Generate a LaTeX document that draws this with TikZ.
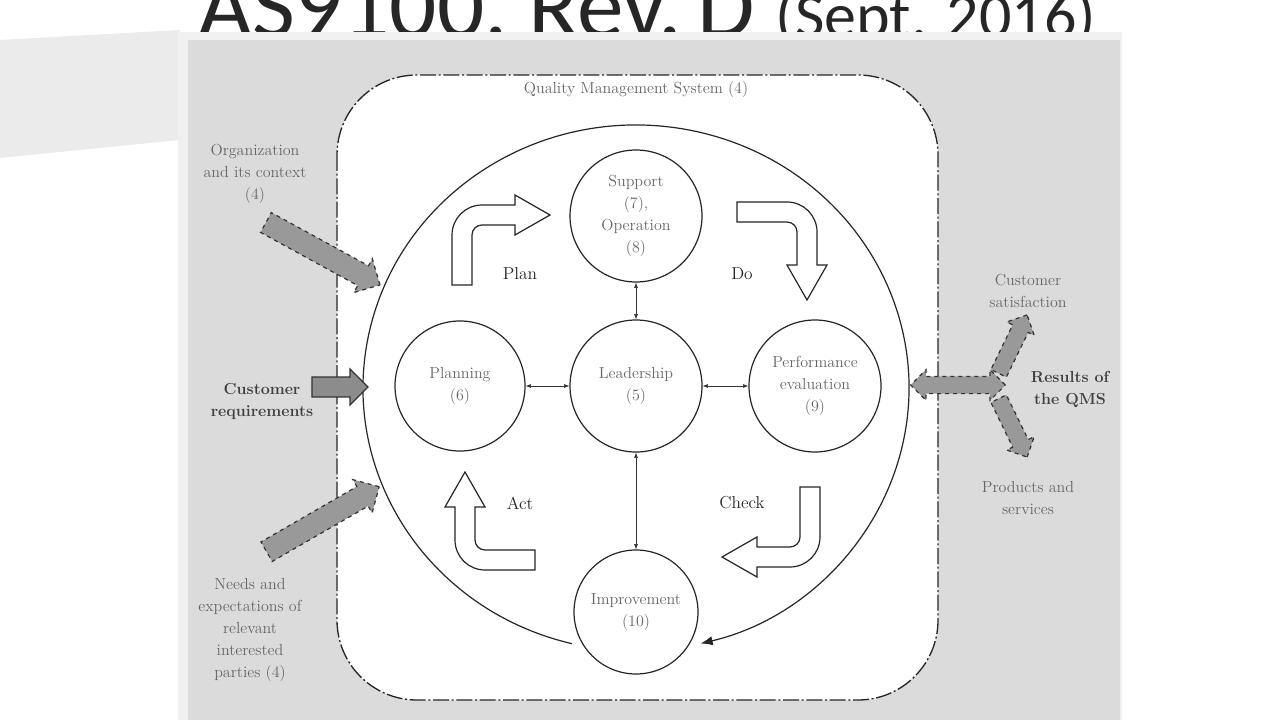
\documentclass[tikz,border=0pt]{standalone}
\usepackage{fontspec}
\newfontfamily\titlefont{Carlito}
\usetikzlibrary{shapes.arrows,arrows.meta}
\begin{document}
\begin{tikzpicture}[x=0.75pt,y=-0.75pt,
  lbl/.style={font=\fontsize{12}{16.5}\selectfont, text=black!60, align=center},
  blbl/.style={font=\fontsize{12}{16.5}\selectfont\bfseries, text=black!75, align=center},
  circ/.style={circle, draw=black!85, line width=0.9pt, fill=white, minimum size=#1*0.75pt, inner sep=0pt, font=\fontsize{12}{16.5}\selectfont, text=black!60, align=center},
  thin/.style={{Latex[length=4pt]}-{Latex[length=4pt]}, line width=0.5pt, draw=black!80},
  blk/.style={draw=black!85, line width=0.9pt, fill=white},
  fat/.style={single arrow, draw=black!80, dashed, line width=0.9pt, fill=black!40, inner xsep=0pt, inner ysep=8pt, single arrow head extend=6pt, minimum height=#1*0.75pt},
  cyc/.style={font=\fontsize{13}{16}\selectfont, text=black!85}]
\useasboundingbox (0,0) rectangle (1280,720);
\fill[white] (0,0) rectangle (1280,720);
\fill[black!8] (0,40) -- (180,30) -- (180,140) -- (0,158) -- cycle;
\node[anchor=base west, font=\titlefont\fontsize{70}{70}\selectfont, text=black!85, inner sep=0] (title) at (198,38) {AS9100, Rev.\,D \fontsize{48}{48}\selectfont(Sept. 2016)};
\fill[black!6] (178,32) rectangle (1122,720);
\fill[black!14] (188,40) rectangle (1120,720);
% QMS box
\draw[fill=white, draw=black!85, line width=1pt, dash pattern=on 12pt off 2pt on 1.5pt off 2pt, rounded corners=60pt] (337,75) rectangle (938,700);
\node[lbl] (qms) at (636,90) {Quality Management System (4)};
% big cycle
\draw[line width=0.9pt, draw=black!85, -{Latex[length=9pt,width=7pt]}] (636,388) ++(103.6:273 and 263) arc[start angle=103.6, end angle=436.3, x radius=273, y radius=263];
% block arrows
\foreach \r in {0,90,180,270}{
  \draw[blk, rotate around={\r:(636,386)}] (452,285) -- (452,235) arc[start angle=180, end angle=270, radius=30] -- (515,205) -- (515,195) -- (550,215) -- (515,235) -- (515,225) -- (482,225) arc[start angle=270, end angle=180, radius=10] -- (472,285) -- cycle;
}
\node[cyc] (plan) at (520,274) {Plan};
\node[cyc] (do) at (742,274) {Do};
\node[cyc] (check) at (742,503) {Check};
\node[cyc] (act) at (520,503) {Act};
% circles
\node[circ=132] (sup) at (636,216) {Support\\(7),\\Operation\\(8)};
\node[circ=130] (pla) at (460,386) {Planning\\(6)};
\node[circ=132] (lea) at (636,386) {Leadership\\(5)};
\node[circ=132] (per) at (815,386) {Performance\\evaluation\\(9)};
\node[circ=124] (imp) at (636,612) {Improvement\\(10)};
\draw[thin] (sup) -- (lea);
\draw[thin] (pla) -- (lea);
\draw[thin] (lea) -- (per);
\draw[thin] (lea) -- (imp);
% inputs
\node[fat=130, rotate=-28.7] (a1) at (318,251) {};
\node[fat=56, solid, fill=black!45, inner ysep=7pt] (a2) at (335,387) {};
\node[fat=130, rotate=30] (a3) at (318,522) {};
\node[lbl] (org) at (255,174) {Organization\\and its context\\(4)};
\node[blbl] (cr) at (262,401) {Customer\\requirements};
\node[lbl] (needs) at (250,630) {Needs and\\expectations of\\relevant\\interested\\parties (4)};
% outputs
\node[fat=65, inner ysep=6pt, single arrow head extend=5pt, rotate=64] (a5) at (1011,348) {};
\node[fat=65, inner ysep=6pt, single arrow head extend=5pt, rotate=-64] (a6) at (1011,424) {};
\node[double arrow, draw=black!80, dashed, line width=0.9pt, fill=black!40, inner xsep=0pt, inner ysep=6pt, double arrow head extend=5pt, minimum height=71pt] (a4) at (958,385) {};
\node[lbl] (cs) at (1028,291) {Customer\\satisfaction};
\node[blbl] (res) at (1070,389) {Results of\\the QMS};
\node[lbl] (ps) at (1028,498) {Products and\\services};
\end{tikzpicture}
\end{document}
